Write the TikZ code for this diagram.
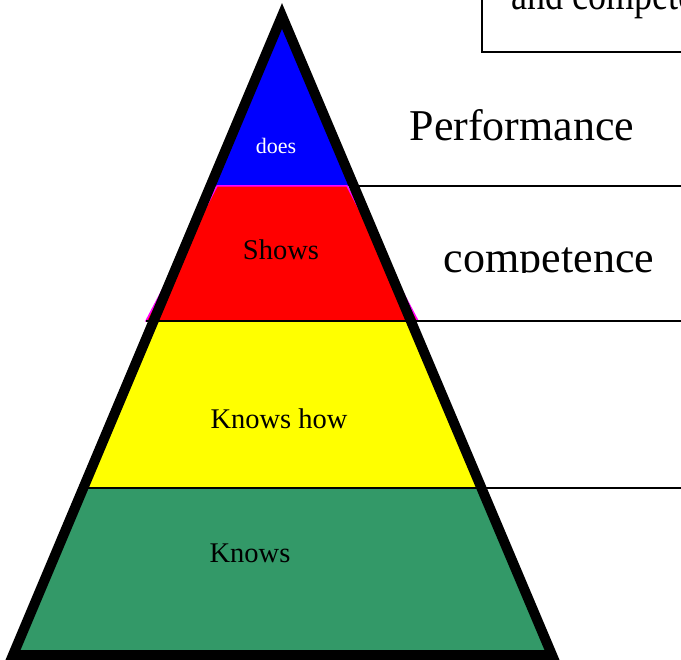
\documentclass[tikz,border=0pt]{standalone}
\usepackage{fontspec}
\setmainfont{Liberation Serif}
\definecolor{bandgreen}{RGB}{51,153,104}
\definecolor{bandyellow}{RGB}{255,255,0}
\definecolor{bandblue}{RGB}{0,0,255}
\definecolor{bandred}{RGB}{255,0,0}
\definecolor{rim}{RGB}{255,0,255}
\begin{document}
\begin{tikzpicture}[x=1pt,y=-1pt,
  lbl/.style={anchor=base,inner sep=0pt,font=\fontsize{28.5}{34}\selectfont},
  big/.style={anchor=base,inner sep=0pt,font=\fontsize{44}{52}\selectfont},
  thinline/.style={line width=2pt}]
\clip (0,0) rectangle (681,660);
\fill[white] (0,0) rectangle (681,660);
% triangle corners (stroke centreline)
\coordinate (A) at (282,16);
\coordinate (L) at (13,655);
\coordinate (R) at (552,655);
% band fills clipped to the triangle
\begin{scope}
  \clip (A) -- (L) -- (R) -- cycle;
  \fill[bandblue] (0,0) rectangle (681,186);
  \fill[bandyellow] (0,321) rectangle (681,488);
  \fill[bandgreen] (0,488) rectangle (681,660);
\end{scope}
% red band with magenta rim
\filldraw[fill=bandred,draw=rim,line width=1.5pt] (217,186) -- (347,186) -- (418,321) -- (146,321) -- cycle;
% inner separators
\draw[thinline] (146,321) -- (417,321);
\draw[thinline] (80,488) -- (485,488);
% outline
\draw[line width=10pt,line join=miter] (A) -- (L) -- (R) -- cycle;
% lines to the right
\coordinate (e1) at (356,186);
\coordinate (e2) at (413,321);
\coordinate (e3) at (484,488);
\coordinate (f1) at (681,186);
\coordinate (f2) at (681,321);
\coordinate (f3) at (681,488);
\draw[thinline] (e1) -- (f1);
\draw[thinline] (e2) -- (f2);
\draw[thinline] (e3) -- (f3);
% box at top right
\draw[thinline] (482,52) rectangle (700,-10);
\node[big,anchor=base west] (box) at (511,10) {\scalebox{0.82}[1]{and competence}};
% labels
\node[anchor=base,inner sep=0pt,text=white,font=\fontsize{22}{26}\selectfont] (does) at (276,154) {does};
\node[lbl] (shows) at (281,260) {Shows};
\node[lbl] (knowshow) at (279,429) {Knows how};
\node[lbl] (knows) at (250,562) {Knows};
\node[big] (perf) at (522,141) {Performance};
\begin{scope}
  \clip (400,200) rectangle (681,273);
  \node[big] (comp) at (549,273) {competence};
\end{scope}
\end{tikzpicture}
\end{document}
